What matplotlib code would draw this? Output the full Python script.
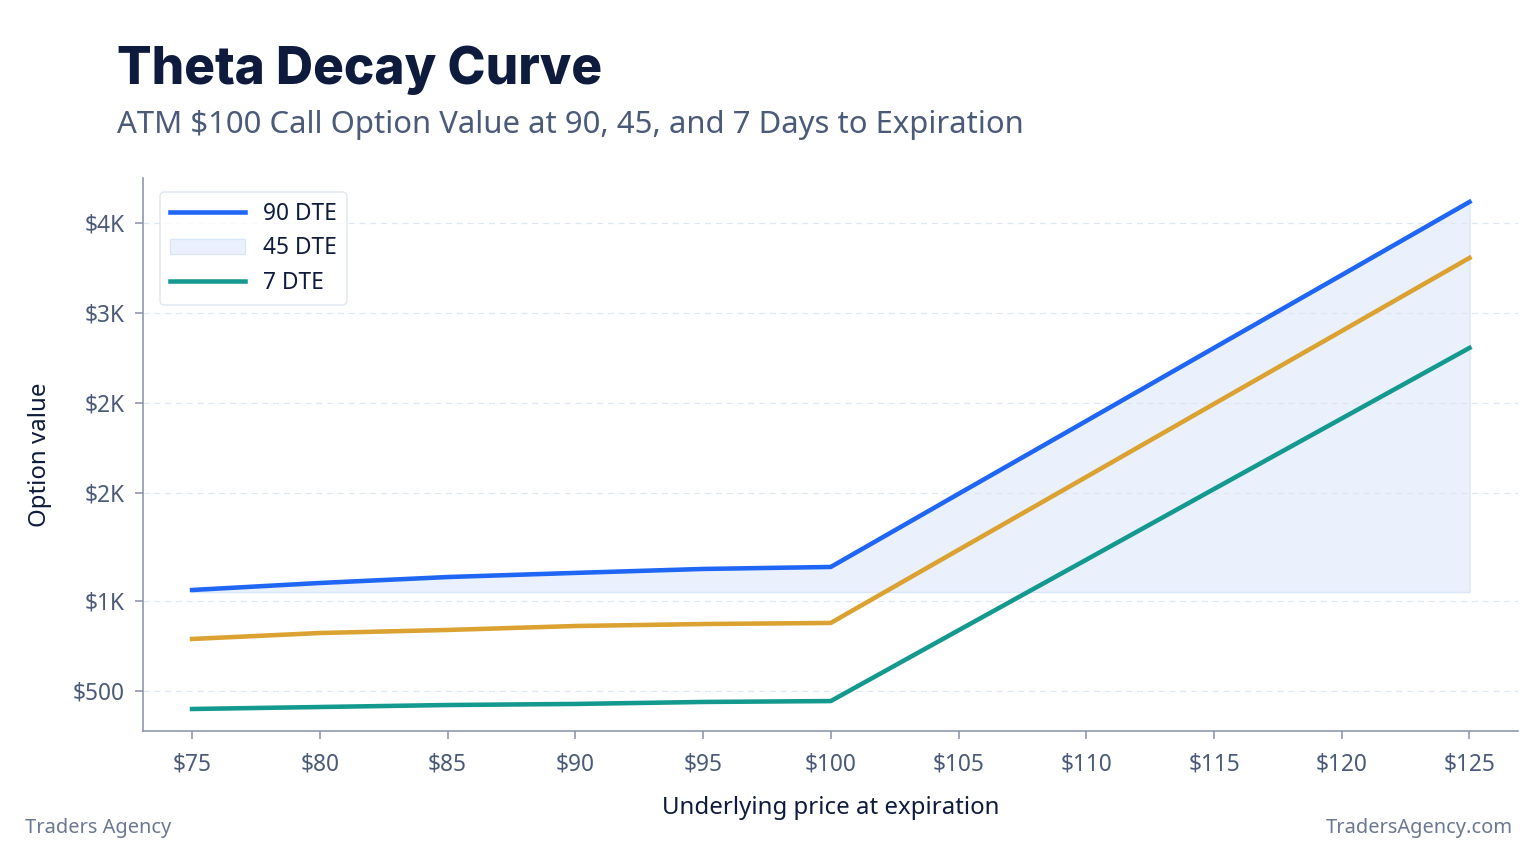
import matplotlib
matplotlib.use("Agg")
import matplotlib.pyplot as plt

# underlying price at expiration
prices = [75, 80, 85, 90, 95, 100, 105, 110, 115, 120, 125]

# option value ($) for each days-to-expiration curve
dte_90 = [1061, 1100, 1133, 1156, 1178, 1189, 1595, 2000, 2406, 2811, 3217]
dte_45 = [789, 822, 839, 861, 872, 878, 1284, 1689, 2095, 2500, 2906]
dte_7 = [400, 411, 422, 428, 439, 444, 837, 1229, 1622, 2014, 2406]
fill_base = 1050

ytick_vals = [500, 1000, 1600, 2100, 2600, 3100]
ytick_labels = ["$500", "$1K", "$2K", "$2K", "$3K", "$4K"]

BLUE = "#1f66f5"
ORANGE = "#dba232"
TEAL = "#14998f"
NAVY = "#0f1b3d"
SLATE = "#4a5a78"

plt.rcParams["font.family"] = ["Noto Sans", "DejaVu Sans"]

fig = plt.figure(figsize=(16, 9), dpi=96)
ax = fig.add_axes([0.0931, 0.154, 0.8952, 0.640])

ax.fill_between(prices, fill_base, dte_90, color="#e8f0fc", alpha=0.9,
                edgecolor="#d6e4fa", linewidth=1, label="45 DTE", zorder=1)
ax.plot(prices, dte_90, color=BLUE, lw=3.4, label="90 DTE", zorder=3)
ax.plot(prices, dte_45, color=ORANGE, lw=3.4, zorder=3)
ax.plot(prices, dte_7, color=TEAL, lw=3.4, label="7 DTE", zorder=3)

ax.set_xlim(73.08, 126.9)
ax.set_ylim(278, 3350)
ax.set_xticks(prices)
ax.set_xticklabels([f"${p}" for p in prices])
ax.set_yticks(ytick_vals)
ax.set_yticklabels(ytick_labels)

ax.grid(axis="y", color="#dde6f2", linestyle=(0, (5, 4)), lw=0.9)
ax.grid(axis="x", visible=False)
for side in ["top", "right"]:
    ax.spines[side].set_visible(False)
for side in ["left", "bottom"]:
    ax.spines[side].set_color("#8a94aa")
    ax.spines[side].set_linewidth(1.2)
ax.tick_params(colors="#8a94aa", labelcolor=SLATE, labelsize=17, length=6, width=1.2)
ax.tick_params(axis="x", pad=10)
ax.tick_params(axis="y", pad=8)

ax.set_xlabel("Underlying price at expiration", fontsize=18, color=NAVY, labelpad=15)
ax.set_ylabel("Option value", fontsize=18, color=NAVY, labelpad=15)

handles, labels = ax.get_legend_handles_labels()
order = [labels.index(l) for l in ["90 DTE", "45 DTE", "7 DTE"]]
leg = ax.legend([handles[i] for i in order], [labels[i] for i in order],
                loc="upper left", bbox_to_anchor=(0.004, 0.995), fontsize=17,
                handlelength=3.3, frameon=True, fancybox=True, borderpad=0.45,
                labelspacing=0.45, handletextpad=0.8)
leg.get_frame().set_edgecolor("#dde3ee")
leg.get_frame().set_linewidth(1.2)
for t in leg.get_texts():
    t.set_color(NAVY)

fig.text(0.076, 0.903, "Theta Decay Curve", fontsize=38.5, fontweight="heavy",
         color=NAVY, family=["Inter", "DejaVu Sans"])
fig.text(0.076, 0.846, "ATM $100 Call Option Value at 90, 45, and 7 Days to Expiration",
         fontsize=23.3, color=SLATE)
fig.text(0.016, 0.036, "Traders Agency", fontsize=15, color="#6b7890")
fig.text(0.985, 0.036, "TradersAgency.com", fontsize=15, color="#6b7890", ha="right")

fig.savefig("out.png", dpi=96)
